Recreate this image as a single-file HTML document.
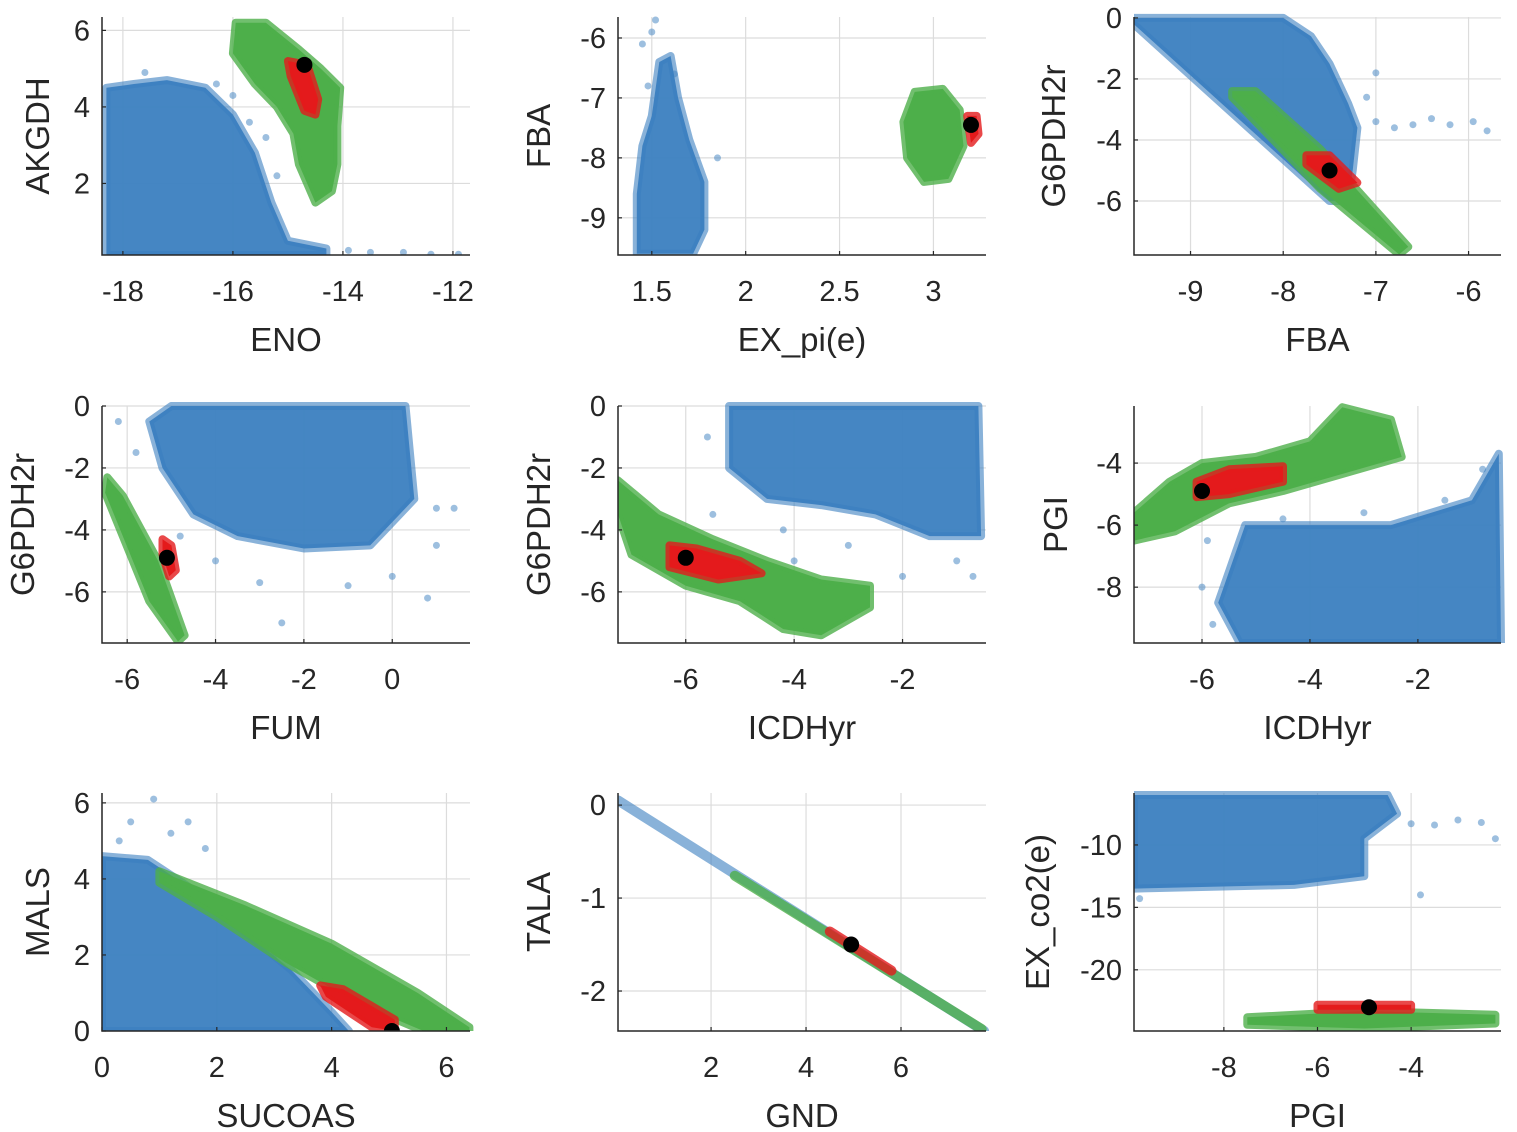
<!DOCTYPE html>
<html><head><meta charset="utf-8">
<style>
html,body{margin:0;padding:0;background:#fff;}
svg{display:block;}
text{font-family:"Liberation Sans",sans-serif;fill:#262626;}
</style></head>
<body>
<svg id="chart" width="1517" height="1132" viewBox="0 0 1517 1132" xmlns="http://www.w3.org/2000/svg"></svg>
<script>
// ---- data: cloud outlines + sparse outlier points ----
const p1Blue=[[-18.3,0.13],[-18.3,4.5],[-17.8,4.6],[-17.2,4.7],[-16.5,4.5],[-16.0,3.8],[-15.6,2.8],[-15.3,1.5],[-15.0,0.5],[-14.3,0.3],[-14.3,0.13]];
const p1BlueOut=[[-13.5,0.2],[-12.9,0.2],[-12.4,0.15],[-11.9,0.15],[-13.9,0.25],[-15.4,3.2],[-16.0,4.3],[-15.2,2.2],[-16.3,4.6],[-17.6,4.9],[-15.7,3.6]];
const p1Green=[[-15.95,6.2],[-15.4,6.2],[-14.8,5.5],[-14.4,5.0],[-14.05,4.5],[-14.1,3.5],[-14.1,2.5],[-14.2,1.8],[-14.5,1.5],[-14.8,2.5],[-14.9,3.3],[-15.2,4.0],[-15.6,4.6],[-16.0,5.4]];
const p1Red=[[-15.0,5.2],[-14.65,5.1],[-14.45,4.2],[-14.5,3.8],[-14.7,3.9],[-14.95,4.8]];
const p1Black=[[-14.7,5.1]];

const p2Blue=[[1.42,-9.6],[1.42,-8.6],[1.45,-7.8],[1.5,-7.3],[1.54,-6.4],[1.6,-6.3],[1.64,-7.0],[1.7,-7.7],[1.78,-8.4],[1.78,-9.2],[1.72,-9.6]];
const p2BlueOut=[[1.5,-5.9],[1.45,-6.1],[1.85,-8.0],[1.52,-5.7],[1.62,-6.6],[1.48,-6.8]];
const p2Green=[[2.9,-6.9],[3.05,-6.85],[3.14,-7.2],[3.16,-7.8],[3.08,-8.35],[2.95,-8.4],[2.86,-8.0],[2.84,-7.4]];
const p2Red=[[3.18,-7.3],[3.23,-7.3],[3.24,-7.6],[3.2,-7.75]];
const p2Black=[[3.2,-7.45]];

const p3Blue=[[-9.65,0],[-8.0,0],[-7.7,-0.6],[-7.5,-1.5],[-7.3,-2.8],[-7.2,-3.6],[-7.25,-5.0],[-7.3,-6.0],[-7.5,-6.0],[-9.65,-0.1]];
const p3BlueOut=[[-7.0,-3.4],[-6.6,-3.5],[-6.2,-3.5],[-5.8,-3.7],[-6.4,-3.3],[-5.95,-3.4],[-6.8,-3.6],[-7.1,-2.6],[-7.0,-1.8]];
const p3Green=[[-8.55,-2.4],[-8.3,-2.4],[-7.6,-4.3],[-6.65,-7.5],[-6.75,-7.75],[-7.6,-5.6],[-8.55,-2.6]];
const p3Red=[[-7.75,-4.5],[-7.5,-4.5],[-7.2,-5.4],[-7.4,-5.6],[-7.75,-4.8]];
const p3Black=[[-7.5,-5.0]];

const p4Blue=[[-5.0,0],[0.3,0],[0.4,-1.5],[0.5,-3.0],[-0.5,-4.5],[-2,-4.6],[-3.5,-4.2],[-4.5,-3.5],[-5.2,-2.0],[-5.5,-0.5]];
const p4BlueOut=[[1.0,-3.3],[1.4,-3.3],[-2.5,-7.0],[-3,-5.7],[-1,-5.8],[0,-5.5],[-6.2,-0.5],[-4,-5.0],[1,-4.5],[0.8,-6.2],[-5.8,-1.5],[-4.8,-4.2]];
const p4Green=[[-6.45,-2.3],[-6.1,-2.9],[-5.3,-5.0],[-4.7,-7.4],[-4.85,-7.6],[-5.5,-6.3],[-6.5,-2.8]];
const p4Red=[[-5.2,-4.3],[-5.0,-4.5],[-4.9,-5.3],[-5.05,-5.5],[-5.2,-4.8]];
const p4Black=[[-5.1,-4.9]];

const p5Blue=[[-5.2,0],[-0.6,0],[-0.55,-4.2],[-1.5,-4.2],[-2.5,-3.5],[-3.5,-3.2],[-4.5,-3.0],[-5.2,-2.0]];
const p5BlueOut=[[-4,-5],[-2,-5.5],[-1,-5],[-0.7,-5.5],[-3,-4.5],[-5.5,-3.5],[-5.6,-1.0],[-4.2,-4.0]];
const p5Green=[[-7.25,-2.4],[-6.5,-3.5],[-5.5,-4.3],[-4.5,-5.0],[-3.5,-5.6],[-2.6,-5.8],[-2.6,-6.5],[-3.5,-7.4],[-4.2,-7.2],[-5,-6.3],[-6,-5.8],[-7.0,-4.8],[-7.25,-3.5]];
const p5Red=[[-6.3,-4.5],[-5.8,-4.6],[-5.0,-5.0],[-4.6,-5.4],[-5.4,-5.6],[-6.3,-5.2]];
const p5Black=[[-6,-4.9]];

const p6Blue=[[-5.2,-6.0],[-2.5,-6.0],[-1.0,-5.2],[-0.5,-3.7],[-0.46,-9.8],[-5.3,-9.8],[-5.7,-8.5]];
const p6BlueOut=[[-6,-8],[-5.8,-9.2],[-1.5,-5.2],[-5.9,-6.5],[-3,-5.6],[-4.5,-5.8],[-0.8,-4.2]];
const p6Green=[[-7.26,-6.5],[-7.26,-5.6],[-6.6,-4.6],[-6.0,-4.0],[-5,-3.8],[-4,-3.3],[-3.4,-2.2],[-2.5,-2.6],[-2.3,-3.8],[-3.5,-4.4],[-4.5,-4.9],[-5.5,-5.3],[-6.5,-6.2]];
const p6Red=[[-6.1,-4.6],[-5.5,-4.2],[-4.5,-4.1],[-4.5,-4.6],[-5.5,-5.0],[-6.1,-5.1]];
const p6Black=[[-6,-4.9]];

const p7Blue=[[0,0],[0,4.6],[0.8,4.5],[1.5,3.8],[2.5,2.6],[3.3,1.6],[4.0,0.5],[4.3,0]];
const p7BlueOut=[[0.5,5.5],[0.9,6.1],[1.2,5.2],[1.8,4.8],[0.3,5.0],[1.5,5.5],[2.2,3.2],[3.0,2.0]];
const p7Green=[[1.0,4.2],[2.5,3.3],[4.0,2.3],[5.5,1.0],[6.4,0.1],[6.4,0],[5.6,0],[4.5,0.7],[3.2,1.8],[2.0,3.0],[1.0,3.9]];
const p7Red=[[3.8,1.2],[4.2,1.1],[5.1,0.3],[5.1,0],[4.7,0.1],[3.9,0.9]];
const p7Black=[[5.05,0]];

const p8Blue=[[0.04,0.05],[7.75,-2.43]];
const p8BlueOut=[];
const p8Green=[[2.5,-0.76],[7.7,-2.41]];
const p8Red=[[4.5,-1.36],[5.8,-1.78]];
const p8Black=[[4.95,-1.5]];

const p9Blue=[[-9.92,-6.0],[-4.5,-6.0],[-4.3,-7.5],[-5.0,-9.5],[-5.0,-12.5],[-6.5,-13.2],[-9.92,-13.5]];
const p9BlueOut=[[-3,-8],[-2.5,-8.2],[-4,-8.3],[-3.8,-14],[-2.2,-9.5],[-9.8,-14.3],[-3.5,-8.4]];
const p9Green=[[-7.5,-23.8],[-5,-23.3],[-2.2,-23.6],[-2.2,-24.3],[-5,-24.7],[-7.5,-24.4]];
const p9Red=[[-6.0,-22.8],[-4.0,-22.8],[-4.0,-23.2],[-6.0,-23.2]];
const p9Black=[[-4.9,-23]];

const panels=[
 {name:'eno-akgdh',box:[102,17,470,255],xd:[-18.38,-11.69],yd:[0.13,6.35],xt:[-18,-16,-14,-12],yt:[2,4,6],xl:'ENO',yl:'AKGDH',ylx:37,s:[p1Blue,p1Green,p1Red],out:p1BlueOut,blk:p1Black,w:8},
 {name:'expi-fba',box:[618,17,986,255],xd:[1.32,3.28],yd:[-9.62,-5.65],xt:[1.5,2,2.5,3],yt:[-9,-8,-7,-6],xl:'EX_pi(e)',yl:'FBA',ylx:538,s:[p2Blue,p2Green,p2Red],out:p2BlueOut,blk:p2Black,w:8},
 {name:'fba-g6pdh2r',box:[1134,17,1501,255],xd:[-9.61,-5.65],yd:[-7.77,0.03],xt:[-9,-8,-7,-6],yt:[-6,-4,-2,0],xl:'FBA',yl:'G6PDH2r',ylx:1053,s:[p3Blue,p3Green,p3Red],out:p3BlueOut,blk:p3Black,w:8},
 {name:'fum-g6pdh2r',box:[102,406,470,643],xd:[-6.57,1.76],yd:[-7.65,0],xt:[-6,-4,-2,0],yt:[-6,-4,-2,0],xl:'FUM',yl:'G6PDH2r',ylx:22,s:[p4Blue,p4Green,p4Red],out:p4BlueOut,blk:p4Black,w:8},
 {name:'icdhyr-g6pdh2r',box:[618,406,986,643],xd:[-7.25,-0.46],yd:[-7.65,0],xt:[-6,-4,-2],yt:[-6,-4,-2,0],xl:'ICDHyr',yl:'G6PDH2r',ylx:538,s:[p5Blue,p5Green,p5Red],out:p5BlueOut,blk:p5Black,w:8},
 {name:'icdhyr-pgi',box:[1134,406,1501,643],xd:[-7.26,-0.46],yd:[-9.8,-2.16],xt:[-6,-4,-2],yt:[-8,-6,-4],xl:'ICDHyr',yl:'PGI',ylx:1055,s:[p6Blue,p6Green,p6Red],out:p6BlueOut,blk:p6Black,w:8},
 {name:'sucoas-mals',box:[102,793,470,1031],xd:[0,6.41],yd:[0,6.26],xt:[0,2,4,6],yt:[0,2,4,6],xl:'SUCOAS',yl:'MALS',ylx:37,s:[p7Blue,p7Green,p7Red],out:p7BlueOut,blk:p7Black,w:8},
 {name:'gnd-tala',box:[618,793,986,1031],xd:[0.04,7.79],yd:[-2.43,0.13],xt:[2,4,6],yt:[-2,-1,0],xl:'GND',yl:'TALA',ylx:538,s:[p8Blue,p8Green,p8Red],out:p8BlueOut,blk:p8Black,w:10},
 {name:'pgi-exco2',box:[1134,793,1501,1031],xd:[-9.92,-2.08],yd:[-24.9,-5.84],xt:[-8,-6,-4],yt:[-20,-15,-10],xl:'PGI',yl:'EX_co2(e)',ylx:1037,s:[p9Blue,p9Green,p9Red],out:p9BlueOut,blk:p9Black,w:8}
];
const colors=['#3b7fc0','#4daf4a','#e41a1c'];
const seriesNames=['feasible-samples-cloud','green-samples-cloud','red-samples-cloud'];
const NS='http://www.w3.org/2000/svg';
const svg=document.getElementById('chart');
function mk(tag,attrs,parent){const e=document.createElementNS(NS,tag);for(const k in attrs)e.setAttribute(k,attrs[k]);parent.appendChild(e);return e;}
panels.forEach(p=>{
  const [x0,y0,x1,y1]=p.box;
  const sx=v=>x0+(v-p.xd[0])/(p.xd[1]-p.xd[0])*(x1-x0);
  const sy=v=>y1-(v-p.yd[0])/(p.yd[1]-p.yd[0])*(y1-y0);
  const g=mk('g',{},svg);
  
  
  const cid='clip-'+p.name;
  const cp=mk('clipPath',{id:cid},g);mk('rect',{x:x0,y:y0-4,width:x1-x0+4,height:y1-y0+4},cp);
  p.xt.forEach(t=>{const l=mk('line',{x1:sx(t),x2:sx(t),y1:y0,y2:y1,stroke:'#dcdcdc','stroke-width':1.2},g);});
  p.yt.forEach(t=>{const l=mk('line',{x1:x0,x2:x1,y1:sy(t),y2:sy(t),stroke:'#dcdcdc','stroke-width':1.2},g);});
  const pts=mk('g',{'clip-path':'url(#'+cid+')'},g);
  p.out.forEach(d=>{
    const c=mk('circle',{cx:sx(d[0]),cy:sy(d[1]),r:3.5,fill:colors[0],'fill-opacity':0.5},pts);
    
    
  });
  p.s.forEach((arr,si)=>{
    const d='M'+arr.map(q=>sx(q[0]).toFixed(1)+','+sy(q[1]).toFixed(1)).join(' L')+' Z';
    const path=mk('path',{d:d,fill:colors[si],stroke:colors[si],'stroke-width':p.w,'stroke-linejoin':'round','stroke-linecap':'round','fill-opacity':si===0?0.95:1,'stroke-opacity':si===0?0.6:0.8},pts);
    
    
  });
  p.blk.forEach(d=>{
    const c=mk('circle',{cx:sx(d[0]),cy:sy(d[1]),r:8,fill:'#000'},pts);
    
    
  });
  const ax=mk('path',{d:`M${x0},${y0} V${y1} H${x1}`,fill:'none',stroke:'#262626','stroke-width':1.5},g);
  
  
  p.xt.forEach(t=>{
    mk('line',{x1:sx(t),x2:sx(t),y1:y1,y2:y1-4,stroke:'#262626','stroke-width':1.2},g);
    const tx=mk('text',{x:sx(t),y:y1+46,'text-anchor':'middle','font-size':29},g);
    tx.textContent=String(t);
    
    
  });
  p.yt.forEach(t=>{
    mk('line',{x1:x0,x2:x0+4,y1:sy(t),y2:sy(t),stroke:'#262626','stroke-width':1.2},g);
    const tx=mk('text',{x:x0-12,y:sy(t)+10,'text-anchor':'end','font-size':29},g);
    tx.textContent=String(t);
    
    
  });
  const xl=mk('text',{x:(x0+x1)/2,y:y1+96,'text-anchor':'middle','font-size':33},g);
  xl.textContent=p.xl;
  
  
  const ylx=p.ylx+12, yly=(y0+y1)/2;
  const yl=mk('text',{x:ylx,y:yly,'text-anchor':'middle','font-size':33,transform:`rotate(-90 ${ylx} ${yly})`},g);
  yl.textContent=p.yl;
  
  
});
</script>
</body></html>
